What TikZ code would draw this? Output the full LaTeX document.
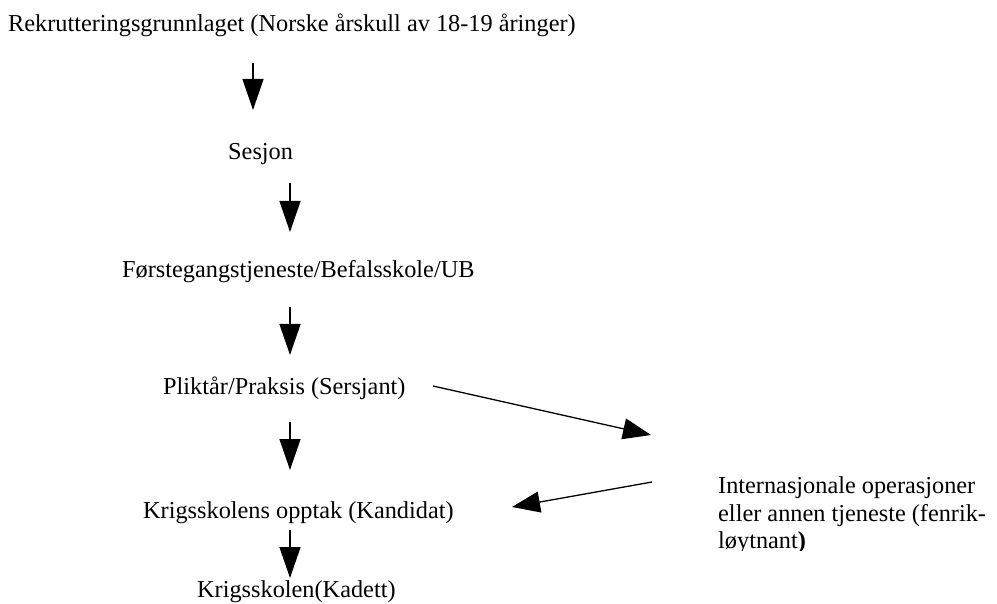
\documentclass[tikz,border=0pt]{standalone}
\usepackage{fontspec}
\setmainfont{Liberation Serif}
\usetikzlibrary{arrows.meta}
\begin{document}
\begin{tikzpicture}[x=1pt,y=-1pt,
  lbl/.style={anchor=base west,inner sep=0pt,font=\fontsize{24.3}{27.6}\selectfont},
  flow/.style={line width=1.3pt,-{Triangle[width=21pt,length=31pt]}},
  side/.style={line width=1.3pt,-{Triangle[width=21pt,length=28pt]}}]
\useasboundingbox (0,0) rectangle (997,604);
\node[lbl] (t0) at (8,32) {Rekrutteringsgrunnlaget (Norske årskull av 18-19 åringer)};
\node[lbl] (t1) at (228,160) {Sesjon};
\node[lbl] (t2) at (122,278) {Førstegangstjeneste/Befalsskole/UB};
\node[lbl] (t3) at (163,395) {Pliktår/Praksis (Sersjant)};
\node[lbl] (t4) at (143,518) {Krigsskolens opptak (Kandidat)};
\node[lbl] (t5) at (197,597) {Krigsskolen(Kadett)};
\node[lbl] (i1) at (718,493) {Internasjonale operasjoner};
\node[lbl] (i2) at (718,521) {eller annen tjeneste (fenrik-};
\begin{scope}
\clip (700,525) rectangle (997,550);
\node[lbl] (i3) at (718,548) {løytnant\textbf{)}};
\end{scope}
\coordinate (a1s) at (253,63);  \coordinate (a1e) at (253,110);
\coordinate (a2s) at (290,183); \coordinate (a2e) at (290,232);
\coordinate (a3s) at (290,307); \coordinate (a3e) at (290,355);
\coordinate (a4s) at (290,422); \coordinate (a4e) at (290,470);
\coordinate (a5s) at (290,530); \coordinate (a5e) at (290,578);
\coordinate (d1s) at (433,386); \coordinate (d1e) at (651,435);
\coordinate (d2s) at (652,482); \coordinate (d2e) at (512,507);
\draw[flow] (a1s) -- (a1e);
\draw[flow] (a2s) -- (a2e);
\draw[flow] (a3s) -- (a3e);
\draw[flow] (a4s) -- (a4e);
\draw[flow] (a5s) -- (a5e);
\draw[side] (d1s) -- (d1e);
\draw[side] (d2s) -- (d2e);
\end{tikzpicture}
\end{document}
